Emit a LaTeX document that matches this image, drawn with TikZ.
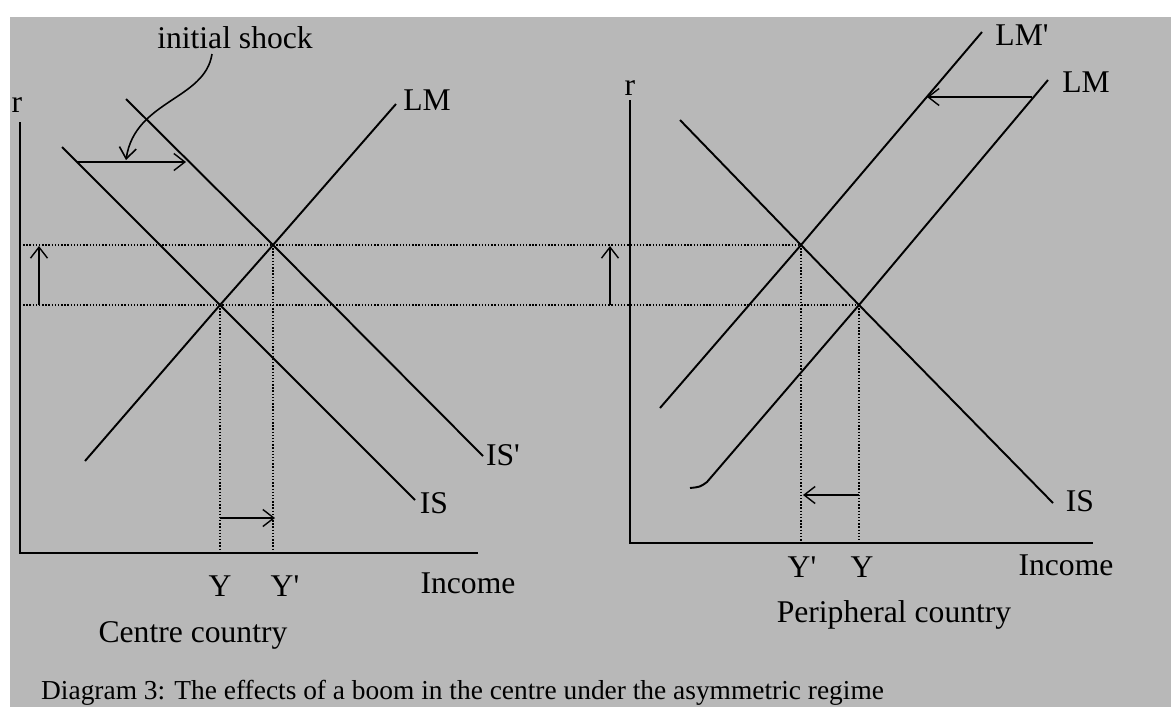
\documentclass[tikz,border=0pt]{standalone}
\usepackage{fontspec}
\setmainfont{Liberation Serif}
\usetikzlibrary{arrows.meta}
\definecolor{screen}{gray}{0.72}
\newcommand{\pr}{\textquotesingle}

\begin{document}
\begin{tikzpicture}[x=0.02cm, y=-0.02cm, >={Straight Barb[length=2.2mm,width=3.4mm]},
    font=\fontsize{18}{20}\selectfont,
    curve/.style={line width=1.1pt},
    guide/.style={densely dotted, line width=0.8pt},
    shiftarrow/.style={->, line width=0.8pt}]
    \useasboundingbox (0,0) rectangle (1171,707);
    \fill[screen] (10,17) rectangle (1171,707);

    % centre country
    \coordinate (o1) at (20,553);
    \coordinate (ytop1) at (20,122);
    \coordinate (xend1) at (478,553);
    \coordinate (e0) at (220,305);
    \coordinate (e1) at (273,245);
    \draw[line width=0.9pt] (ytop1) -- (o1) -- (xend1);
    \draw[curve] (62,147) -- (e0) -- (415,500);
    \draw[curve] (126,99) -- (e1) -- (483,456);
    \draw[curve] (85,461) -- (e0) -- (e1) -- (396,104);
    \node (r1) at (17,105) {r};
    \node (lm1) at (427,100) {LM};
    \node (is1) at (434,503) {IS};
    \node (isp1) at (503,455) {IS\pr};
    \node (y1) at (220,586) {Y};
    \node (yp1) at (285,586) {Y\pr};
    \node (inc1) at (468,583) {Income};
    \node (cc) at (193,635) {Centre country};
    \node (shock) at (235,38) {initial shock};
    \coordinate (sa) at (77,162);
    \coordinate (sb) at (186,162);
    \draw[shiftarrow] (sa) -- (sb);
    \draw[->, line width=0.9pt] (212,54) .. controls (205,100) and (135,100) .. (126,160);
    \draw[guide] (e0) -- (220,553);
    \draw[guide] (e1) -- (273,553);
    \draw[shiftarrow] (220,518) -- (275,518);
    \draw[shiftarrow] (39,305) -- (39,246);

    % peripheral country
    \coordinate (o2) at (630,543);
    \coordinate (ytop2) at (630,100);
    \coordinate (xend2) at (1093,543);
    \coordinate (f1) at (801,245);
    \coordinate (f0) at (859,305);
    \draw[line width=0.9pt] (ytop2) -- (o2) -- (xend2);
    \draw[curve] (680,120) -- (f1) -- (f0) -- (1053,503);
    \draw[curve] (660,408) -- (f1) -- (982,32);
    \draw[curve] (690,488) .. controls (700,487) .. (707,482) -- (f0) -- (1048,80);
    \node (r2) at (630,88) {r};
    \node (lmp2) at (1022,35) {LM\pr};
    \node (lm2) at (1086,82) {LM};
    \node (is2) at (1080,501) {IS};
    \node (yp2) at (802,567) {Y\pr};
    \node (y2) at (862,567) {Y};
    \node (inc2) at (1066,565) {Income};
    \node (pc) at (894,615) {Peripheral country};
    \draw[shiftarrow] (1032,97) -- (927,97);
    \draw[guide] (f1) -- (801,543);
    \draw[guide] (f0) -- (859,543);
    \draw[shiftarrow] (859,495) -- (803,495);
    \draw[shiftarrow] (610,305) -- (610,246);

    % common interest rate levels
    \draw[guide] (20,245) -- (f1);
    \draw[guide] (20,305) -- (f0);

    \node[anchor=base west, font=\fontsize{15.6}{18}\selectfont] (cap) at (35,699) {Diagram 3: The effects of a boom in the centre under the asymmetric regime};
\end{tikzpicture}
\end{document}
